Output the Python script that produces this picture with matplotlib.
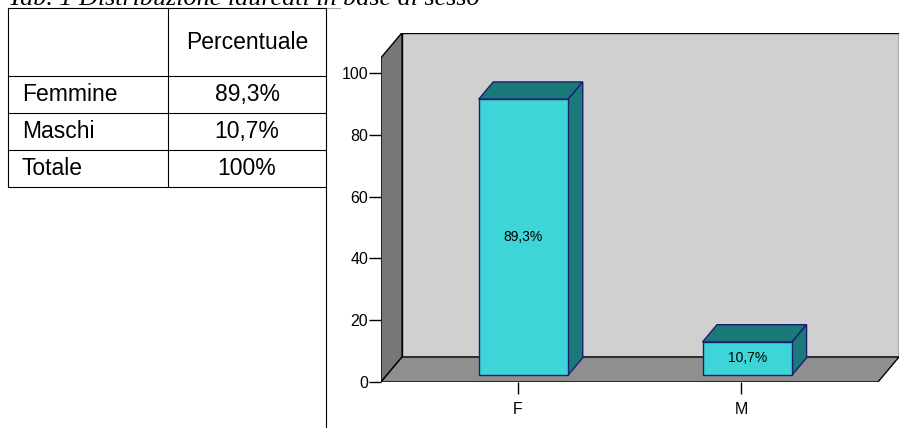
import matplotlib
matplotlib.use("Agg")
from matplotlib import pyplot as plt
from matplotlib.patches import Polygon, Rectangle

# data
categories = ["F", "M"]
percent = [89.3, 10.7]
row_labels = ["Femmine", "Maschi", "Totale"]
col_header = "Percentuale"
title = "Tab. 1 Distribuzione laureati in base al sesso"
yticks = [0, 20, 40, 60, 80, 100]


def fmt(v):
    if abs(v - round(v)) < 1e-9:
        return f"{int(round(v))}%"
    return f"{v:.1f}".replace(".", ",") + "%"


plt.rcParams["font.family"] = ["Liberation Sans", "DejaVu Sans"]

fig = plt.figure(figsize=(9.19, 4.28), dpi=100)

# ---- table and title, drawn in pixel space ----
tab = fig.add_axes([0, 0, 1, 1])
tab.set_xlim(0, 919)
tab.set_ylim(428, 0)
tab.axis("off")

# title sits partly above the top edge, as in the original page crop
tab.text(8, 4.5, title, family="Liberation Serif", style="italic",
         fontsize=18.8, va="baseline", ha="left")

xl, xm, xr = 8, 168, 326
rows_y = [8, 76, 113, 150, 187]
lw = 0.8
for y in rows_y:
    tab.plot([xl, xr], [y, y], color="black", lw=lw)
tab.plot([xr, 340], [8, 8], color="#a8a8a8", lw=lw)
tab.plot([xl, xl], [rows_y[0], rows_y[-1]], color="black", lw=lw)
tab.plot([xm, xm], [rows_y[0], rows_y[-1]], color="black", lw=lw)
tab.plot([xr, xr], [rows_y[0], 428], color="black", lw=lw)

tab.text((xm + xr) / 2, (rows_y[0] + rows_y[1]) / 2, col_header,
         fontsize=16.5, ha="center", va="center")
values = percent + [sum(percent)]
for i, (lab, v) in enumerate(zip(row_labels, values)):
    yc = (rows_y[i + 1] + rows_y[i + 2]) / 2
    tab.text(xl + 14, yc, lab, fontsize=16.5, ha="left", va="center")
    tab.text((xm + xr) / 2, yc, fmt(v), fontsize=16.5, ha="center", va="center")

# ---- 3D-looking bar chart ----
ax = fig.add_axes([381 / 919, 46 / 428, 518 / 919, 349.3 / 428])
x0, x1 = -0.61, 1.61      # front plane extent (category units)
ytop = 105                # top of the walls on the front plane
dx, dy = 0.094, 8.1       # depth offset
ax.set_xlim(x0, x1 + dx)
ax.set_ylim(0, ytop + dy)

edge = "black"
# back wall
ax.add_patch(Rectangle((x0 + dx, dy), x1 - x0, ytop, facecolor="#d0d0d0",
                       edgecolor=edge, lw=1.0, zorder=1))
# side wall
ax.add_patch(Polygon([(x0, 0), (x0, ytop), (x0 + dx, ytop + dy), (x0 + dx, dy)],
                     closed=True, facecolor="#777777", edgecolor=edge, lw=1.0, zorder=2))
# floor
ax.add_patch(Polygon([(x0, 0), (x1, 0), (x1 + dx, dy), (x0 + dx, dy)],
                     closed=True, facecolor="#8f8f8f", edgecolor=edge, lw=1.0, zorder=2))

bw = 0.4
f0, f1 = 0.28, 0.97
front_c = "#3dd5d7"
dark_c = "#1a7a7a"
bar_edge = "#1c1c70"
for i, v in enumerate(percent):
    lx = i - bw / 2 + f0 * dx
    by = f0 * dy
    ddx, ddy = (f1 - f0) * dx, (f1 - f0) * dy
    top = [(lx, by + v), (lx + bw, by + v), (lx + bw + ddx, by + v + ddy), (lx + ddx, by + v + ddy)]
    side = [(lx + bw, by), (lx + bw + ddx, by + ddy), (lx + bw + ddx, by + v + ddy), (lx + bw, by + v)]
    ax.add_patch(Polygon(top, closed=True, facecolor=dark_c, edgecolor=bar_edge, lw=1.0, zorder=3))
    ax.add_patch(Polygon(side, closed=True, facecolor=dark_c, edgecolor=bar_edge, lw=1.0, zorder=3))
    ax.add_patch(Rectangle((lx, by), bw, v, facecolor=front_c, edgecolor=bar_edge, lw=1.0, zorder=4))
    ax.text(lx + bw / 2, by + v / 2, fmt(v), fontsize=10, ha="center", va="center", zorder=5)

for s in ax.spines.values():
    s.set_visible(False)
ax.set_xticks(range(len(categories)))
ax.set_xticklabels(categories)
ax.set_yticks(yticks)
ax.tick_params(axis="x", direction="out", length=8.6, width=1.0, pad=5.5, labelsize=11.5)
ax.tick_params(axis="y", direction="out", length=8.3, width=1.0, pad=0.8, labelsize=11.5)
ax.patch.set_visible(False)

plt.savefig("out.png", dpi=100)
